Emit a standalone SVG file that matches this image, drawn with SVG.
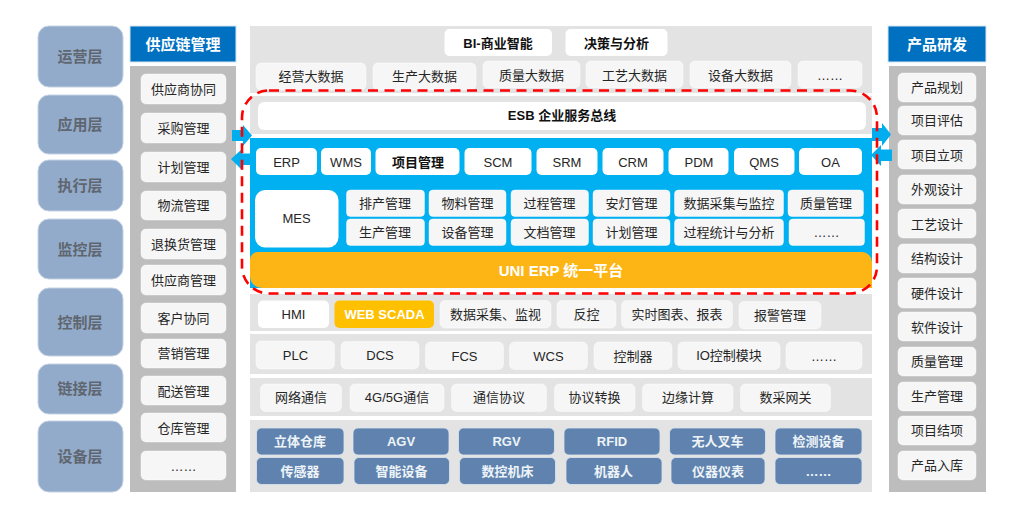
<svg xmlns="http://www.w3.org/2000/svg" width="1024" height="517" viewBox="0 0 1024 517">
<style>
text{font-family:"Liberation Sans","Noto Sans CJK SC",sans-serif;font-size:13px;fill:#262626;text-anchor:middle;dominant-baseline:central}
.layer rect{fill:#92abca;stroke:#c3d2e4;stroke-width:1}
.layer text{font-size:15px;font-weight:bold;fill:#5f6670}
.head rect{fill:#0070c0;stroke:#d6e6f4;stroke-width:1}
.head text{font-size:15px;font-weight:bold;fill:#fff}
.dark{fill:#bdbdbd}
.band{fill:#e3e3e3}
.it rect{fill:#f6f6f6;stroke:#fff;stroke-width:.6;stroke-opacity:.7}
.wt rect{fill:#fff}
.b text{font-weight:bold;fill:#111}
.dev rect{fill:#5f83ae;stroke:#dbe4ee;stroke-width:.8}
.dev text{font-weight:bold;fill:#eef3f8}
.or rect{fill:#ffc000}
.or text{font-weight:bold;fill:#fff}
</style>
<g id="backgrounds">
<rect class="dark" x="130" y="66" width="106" height="426"/>
<rect class="dark" x="889" y="66" width="97" height="426"/>
<rect class="band" x="250" y="26" width="622" height="67"/>
<rect class="band" x="250" y="96" width="622" height="38"/>
<rect x="250" y="138" width="622" height="150" fill="#00b0f0"/>
<rect class="band" x="250" y="294" width="622" height="37"/>
<rect class="band" x="250" y="334" width="622" height="40"/>
<rect class="band" x="250" y="378" width="622" height="38"/>
<rect class="band" x="250" y="420" width="622" height="72"/>
</g>
<g id="layer-yunying" class="layer"><rect x="38" y="26" width="85" height="61" rx="11"/><text x="80" y="56">运营层</text></g>
<g id="layer-yingyong" class="layer"><rect x="38" y="95" width="85" height="59" rx="11"/><text x="80" y="124.500">应用层</text></g>
<g id="layer-zhixing" class="layer"><rect x="38" y="160" width="85" height="51" rx="11"/><text x="80" y="185">执行层</text></g>
<g id="layer-jiankong" class="layer"><rect x="38" y="219" width="85" height="60" rx="11"/><text x="80" y="249">监控层</text></g>
<g id="layer-kongzhi" class="layer"><rect x="38" y="288" width="85" height="68" rx="11"/><text x="80" y="322">控制层</text></g>
<g id="layer-lianjie" class="layer"><rect x="38" y="364" width="85" height="50" rx="11"/><text x="80" y="388">链接层</text></g>
<g id="layer-shebei" class="layer"><rect x="38" y="421" width="85" height="71" rx="11"/><text x="80" y="456">设备层</text></g>

<g id="head-supply" class="head"><rect x="130" y="26" width="106" height="36"/><text x="183" y="44">供应链管理</text></g>
<g id="head-product" class="head"><rect x="888" y="26" width="98" height="36"/><text x="937" y="44">产品研发</text></g>

<g id="s1" class="it"><rect x="141" y="74" width="85" height="30" rx="5"/><text x="183.500" y="89">供应商协同</text></g>
<g id="s2" class="it"><rect x="141" y="113" width="85" height="30" rx="5"/><text x="183.500" y="128">采购管理</text></g>
<g id="s3" class="it"><rect x="141" y="152" width="85" height="30" rx="5"/><text x="183.500" y="167">计划管理</text></g>
<g id="s4" class="it"><rect x="141" y="191" width="85" height="29" rx="5"/><text x="183.500" y="205">物流管理</text></g>
<g id="s5" class="it"><rect x="141" y="229" width="85" height="30" rx="5"/><text x="183.500" y="244">退换货管理</text></g>
<g id="s6" class="it"><rect x="141" y="265" width="85" height="30" rx="5"/><text x="183.500" y="280.500">供应商管理</text></g>
<g id="s7" class="it"><rect x="141" y="303" width="85" height="30" rx="5"/><text x="183.500" y="318">客户协同</text></g>
<g id="s8" class="it"><rect x="141" y="339" width="85" height="29" rx="5"/><text x="183.500" y="353.500">营销管理</text></g>
<g id="s9" class="it"><rect x="141" y="376" width="85" height="29" rx="5"/><text x="183.500" y="391">配送管理</text></g>
<g id="s10" class="it"><rect x="141" y="413" width="85" height="29" rx="5"/><text x="183.500" y="428">仓库管理</text></g>
<g id="s11" class="it"><rect x="141" y="451" width="85" height="29" rx="5"/><text x="183.500" y="466">……</text></g>

<g id="p1" class="it"><rect x="898" y="73" width="78" height="29" rx="5"/><text x="937" y="87">产品规划</text></g>
<g id="p2" class="it"><rect x="898" y="106" width="78" height="29" rx="5"/><text x="937" y="120">项目评估</text></g>
<g id="p3" class="it"><rect x="898" y="140" width="78" height="29" rx="5"/><text x="937" y="155">项目立项</text></g>
<g id="p4" class="it"><rect x="898" y="175" width="78" height="29" rx="5"/><text x="937" y="189.500">外观设计</text></g>
<g id="p5" class="it"><rect x="898" y="209" width="78" height="29" rx="5"/><text x="937" y="224">工艺设计</text></g>
<g id="p6" class="it"><rect x="898" y="244" width="78" height="29" rx="5"/><text x="937" y="258.500">结构设计</text></g>
<g id="p7" class="it"><rect x="898" y="278" width="78" height="30" rx="5"/><text x="937" y="293">硬件设计</text></g>
<g id="p8" class="it"><rect x="898" y="312" width="78" height="29" rx="5"/><text x="937" y="327">软件设计</text></g>
<g id="p9" class="it"><rect x="898" y="347" width="78" height="29" rx="5"/><text x="937" y="361.500">质量管理</text></g>
<g id="p10" class="it"><rect x="898" y="382" width="78" height="29" rx="5"/><text x="937" y="396.500">生产管理</text></g>
<g id="p11" class="it"><rect x="898" y="416" width="78" height="29" rx="5"/><text x="937" y="430.500">项目结项</text></g>
<g id="p12" class="it"><rect x="898" y="451" width="78" height="29" rx="5"/><text x="937" y="465.500">产品入库</text></g>

<g id="bi" class="wt b"><rect x="444.500" y="29" width="107.500" height="27" rx="5"/><text x="498" y="43">BI-商业智能</text></g>
<g id="decision" class="wt b"><rect x="565.500" y="29" width="102" height="27" rx="5"/><text x="616.500" y="43">决策与分析</text></g>
<g id="d1" class="it"><rect x="256" y="63" width="110" height="27" rx="5"/><text x="311" y="76.500">经营大数据</text></g>
<g id="d2" class="it"><rect x="373" y="63" width="103" height="27" rx="5"/><text x="424.500" y="76.500">生产大数据</text></g>
<g id="d3" class="it"><rect x="483" y="61" width="97" height="27" rx="5"/><text x="531.500" y="75">质量大数据</text></g>
<g id="d4" class="it"><rect x="586" y="61" width="97" height="27" rx="5"/><text x="634.500" y="75">工艺大数据</text></g>
<g id="d5" class="it"><rect x="690" y="61" width="101" height="27" rx="5"/><text x="740.500" y="75">设备大数据</text></g>
<g id="d6" class="it"><rect x="798" y="61" width="64" height="27" rx="5"/><text x="830" y="75">……</text></g>

<g id="esb" class="wt b"><rect x="258" y="102" width="608" height="28" rx="6"/><text x="562" y="115.500">ESB 企业服务总线</text></g>

<g id="erp" class="wt"><rect x="256" y="148" width="61" height="27" rx="5"/><text x="286.500" y="162">ERP</text></g>
<g id="wms" class="wt"><rect x="321" y="148" width="50" height="27" rx="5"/><text x="346" y="162">WMS</text></g>
<g id="pm" class="wt b"><rect x="375.500" y="148" width="84" height="27" rx="5"/><text x="418" y="162">项目管理</text></g>
<g id="scm" class="wt"><rect x="464.500" y="148" width="67" height="27" rx="5"/><text x="498" y="162">SCM</text></g>
<g id="srm" class="wt"><rect x="536.500" y="148" width="61" height="27" rx="5"/><text x="567" y="162">SRM</text></g>
<g id="crm" class="wt"><rect x="602.500" y="148" width="61" height="27" rx="5"/><text x="633" y="162">CRM</text></g>
<g id="pdm" class="wt"><rect x="668.500" y="148" width="60" height="27" rx="5"/><text x="699" y="162">PDM</text></g>
<g id="qms" class="wt"><rect x="734" y="148" width="60.500" height="27" rx="5"/><text x="764" y="162">QMS</text></g>
<g id="oa" class="wt"><rect x="799" y="148" width="63" height="27" rx="5"/><text x="830.500" y="162">OA</text></g>

<g id="mes" class="wt"><rect x="255" y="190" width="83.500" height="57.500" rx="10"/><text x="296.500" y="218">MES</text></g>
<g id="m1" class="it"><rect x="346.500" y="190" width="78" height="26.500" rx="4"/><text x="385" y="203">排产管理</text></g>
<g id="m2" class="it"><rect x="429" y="190" width="77" height="26.500" rx="4"/><text x="467.500" y="203">物料管理</text></g>
<g id="m3" class="it"><rect x="511" y="190" width="77.500" height="26.500" rx="4"/><text x="549.500" y="203">过程管理</text></g>
<g id="m4" class="it"><rect x="593" y="190" width="77" height="26.500" rx="4"/><text x="631.500" y="203">安灯管理</text></g>
<g id="m5" class="it"><rect x="674.500" y="190" width="109" height="26.500" rx="4"/><text x="729" y="203">数据采集与监控</text></g>
<g id="m6" class="it"><rect x="788" y="190" width="75.500" height="26.500" rx="4"/><text x="826" y="203">质量管理</text></g>
<g id="m7" class="it"><rect x="346.500" y="219" width="78" height="26.500" rx="4"/><text x="385" y="232">生产管理</text></g>
<g id="m8" class="it"><rect x="429" y="219" width="77" height="26.500" rx="4"/><text x="467.500" y="232">设备管理</text></g>
<g id="m9" class="it"><rect x="511" y="219" width="77.500" height="26.500" rx="4"/><text x="549.500" y="232">文档管理</text></g>
<g id="m10" class="it"><rect x="593" y="219" width="77" height="26.500" rx="4"/><text x="631.500" y="232">计划管理</text></g>
<g id="m11" class="it"><rect x="674.500" y="219" width="109" height="26.500" rx="4"/><text x="729" y="232">过程统计与分析</text></g>
<g id="m12" class="it"><rect x="789" y="219" width="75.500" height="26.500" rx="4"/><text x="826.500" y="232">……</text></g>

<g id="uni"><path d="M258 252H862a10 10 0 0 1 10 10V288H262a12 12 0 0 1-12-12V260a8 8 0 0 1 8-8Z" fill="#fdb515"/><text x="561" y="270" style="font-size:15px;font-weight:bold;fill:#fff">UNI ERP 统一平台</text></g>

<g id="hmi" class="wt"><rect x="258" y="300.500" width="71" height="27.500" rx="5"/><text x="293.500" y="314">HMI</text></g>
<g id="scada" class="or"><rect x="334.500" y="300.500" width="99.500" height="27.500" rx="5"/><text x="384.500" y="314">WEB SCADA</text></g>
<g id="c1" class="it"><rect x="440" y="300.500" width="111" height="27.500" rx="5"/><text x="495.500" y="314">数据采集、监视</text></g>
<g id="c2" class="it"><rect x="557" y="300.500" width="59" height="27.500" rx="5"/><text x="586.500" y="314">反控</text></g>
<g id="c3" class="it"><rect x="621.500" y="300.500" width="111" height="27.500" rx="5"/><text x="677" y="314">实时图表、报表</text></g>
<g id="c4" class="it"><rect x="739" y="301.500" width="82" height="27.500" rx="5"/><text x="780" y="315.500">报警管理</text></g>

<g id="plc" class="it"><rect x="256" y="341" width="78.500" height="28" rx="5"/><text x="295.500" y="355">PLC</text></g>
<g id="dcs" class="it"><rect x="341" y="341.500" width="78" height="27.500" rx="5"/><text x="380" y="355">DCS</text></g>
<g id="fcs" class="it"><rect x="425.500" y="342" width="78" height="27.500" rx="5"/><text x="464.500" y="356">FCS</text></g>
<g id="wcs" class="it"><rect x="509.500" y="342" width="78" height="27.500" rx="5"/><text x="548.500" y="356">WCS</text></g>
<g id="ctrl" class="it"><rect x="594" y="342" width="78" height="27.500" rx="5"/><text x="633" y="356">控制器</text></g>
<g id="io" class="it"><rect x="678" y="342" width="102" height="27.500" rx="5"/><text x="729" y="355.500">IO控制模块</text></g>
<g id="more2" class="it"><rect x="786" y="342" width="76" height="27.500" rx="5"/><text x="824" y="356">……</text></g>

<g id="n1" class="it"><rect x="260.500" y="384" width="81" height="27.500" rx="5"/><text x="301" y="397.500">网络通信</text></g>
<g id="n2" class="it"><rect x="350" y="384" width="94" height="27.500" rx="5"/><text x="397" y="397.500">4G/5G通信</text></g>
<g id="n3" class="it"><rect x="451.500" y="384" width="95" height="27.500" rx="5"/><text x="499" y="397.500">通信协议</text></g>
<g id="n4" class="it"><rect x="554.500" y="384" width="80.500" height="27.500" rx="5"/><text x="594.500" y="397.500">协议转换</text></g>
<g id="n5" class="it"><rect x="642.500" y="384" width="90.500" height="27.500" rx="5"/><text x="688" y="397.500">边缘计算</text></g>
<g id="n6" class="it"><rect x="740.500" y="384" width="90" height="27.500" rx="5"/><text x="785.500" y="397.500">数采网关</text></g>

<g id="e1" class="dev"><rect x="256.500" y="428" width="87.500" height="27" rx="5"/><text x="300" y="441.500">立体仓库</text></g>
<g id="e2" class="dev"><rect x="353" y="428" width="96" height="27" rx="5"/><text x="401" y="441.500">AGV</text></g>
<g id="e3" class="dev"><rect x="458.500" y="428" width="96" height="27" rx="5"/><text x="506.500" y="441.500">RGV</text></g>
<g id="e4" class="dev"><rect x="564" y="428" width="96" height="27" rx="5"/><text x="612" y="441.500">RFID</text></g>
<g id="e5" class="dev"><rect x="669.500" y="428" width="96" height="27" rx="5"/><text x="717.500" y="441.500">无人叉车</text></g>
<g id="e6" class="dev"><rect x="775" y="428" width="87" height="27" rx="5"/><text x="818.500" y="441.500">检测设备</text></g>
<g id="e7" class="dev"><rect x="256.500" y="457.500" width="87.500" height="27" rx="5"/><text x="300" y="471">传感器</text></g>
<g id="e8" class="dev"><rect x="354" y="457.500" width="95.500" height="27" rx="5"/><text x="401.500" y="471">智能设备</text></g>
<g id="e9" class="dev"><rect x="459.500" y="457.500" width="96" height="27" rx="5"/><text x="507.500" y="471">数控机床</text></g>
<g id="e10" class="dev"><rect x="566" y="457.500" width="96" height="27" rx="5"/><text x="613.500" y="471">机器人</text></g>
<g id="e11" class="dev"><rect x="671" y="457.500" width="94" height="27" rx="5"/><text x="718" y="471">仪器仪表</text></g>
<g id="e12" class="dev"><rect x="775" y="457.500" width="87" height="27" rx="5"/><text x="818.500" y="471">……</text></g>

<g id="connectors" fill="#00aeef">
<path d="M232 130H243V125L252 135.500L243 146V141H232Z"/>
<path d="M231 159L242 149V153.500H250V165H242V170Z"/>
<path d="M872 128H882V123L891 134.500L882 146V141H872Z"/>
<path d="M871 155L881 145V149.500H892V161H881V166Z"/>
</g>
<rect id="focus-frame" x="242" y="90.500" width="635" height="203" rx="27" fill="none" stroke="#ff0000" stroke-width="2.600" stroke-dasharray="10 6.500"/>
</svg>
